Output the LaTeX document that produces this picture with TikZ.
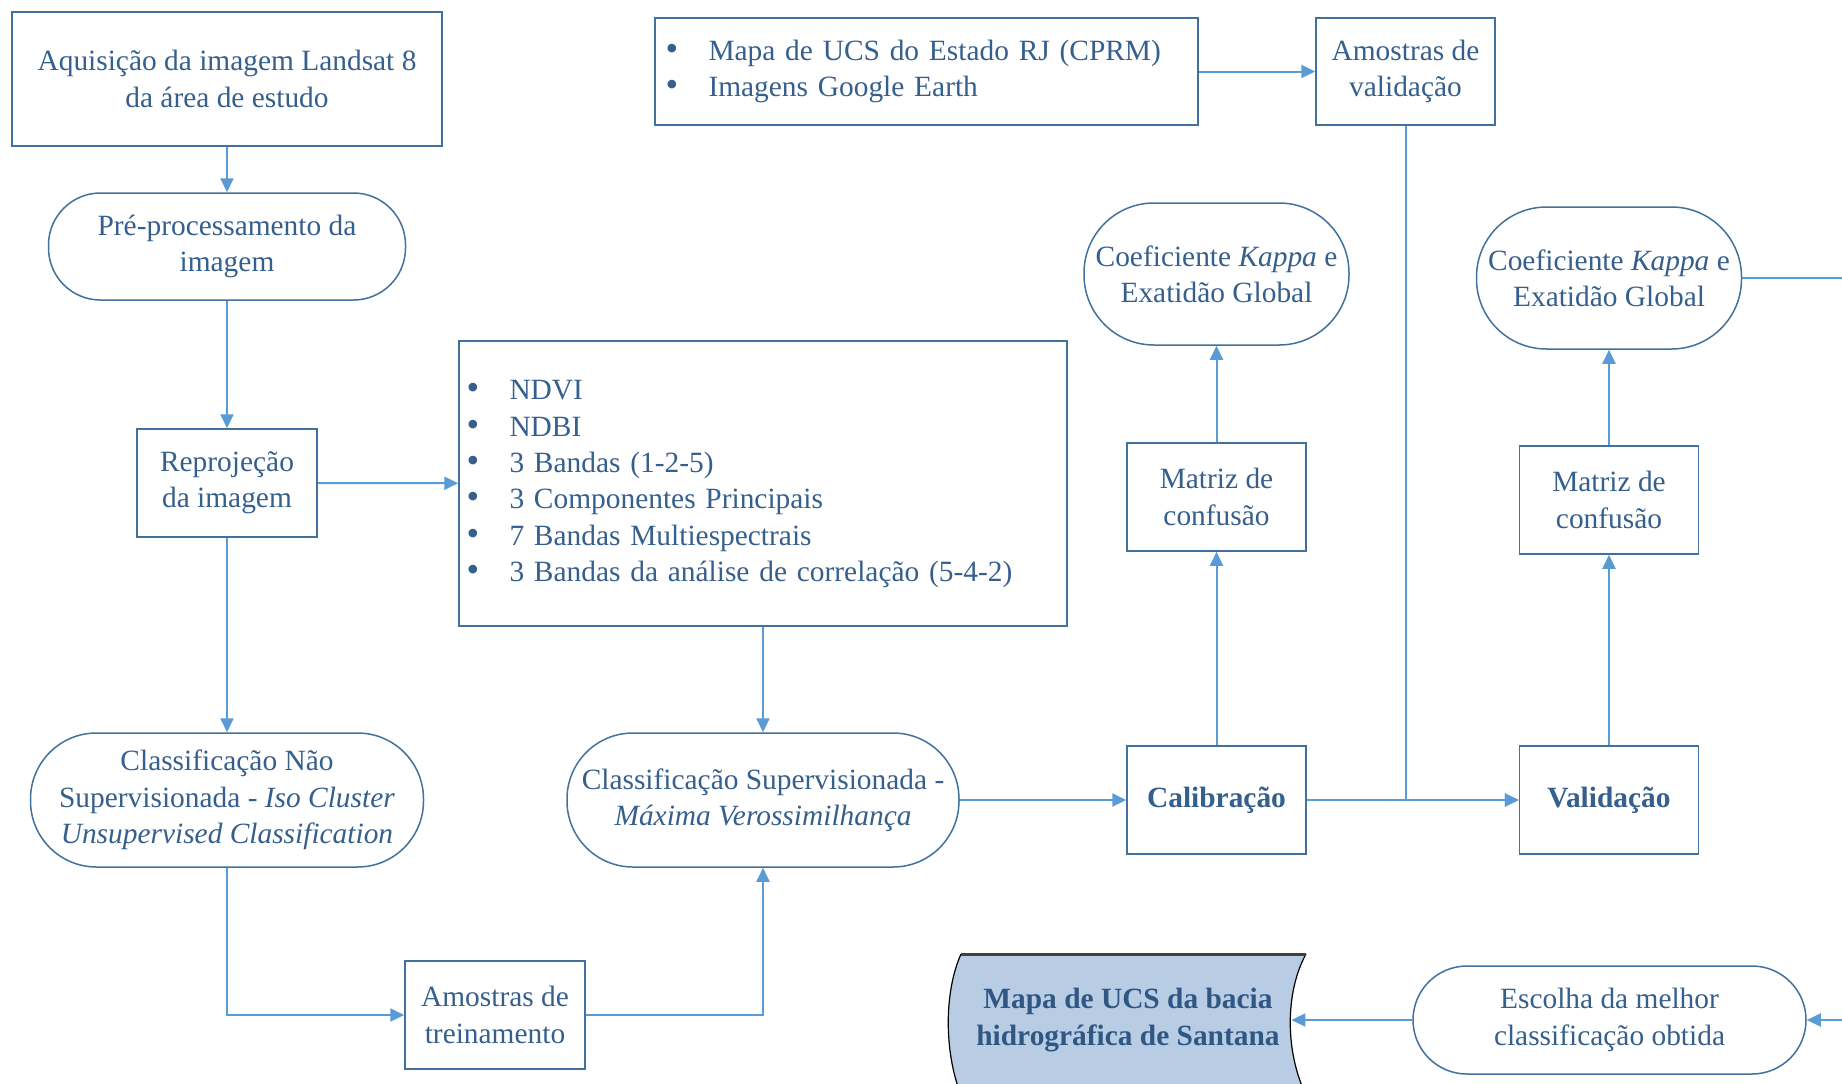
\documentclass[tikz,border=0pt]{standalone}
\usepackage{fontspec}
\setmainfont{Liberation Serif}
\usepackage{xcolor}
\usetikzlibrary{arrows.meta}

\definecolor{boxline}{HTML}{41719C}
\definecolor{flowline}{HTML}{5B9BD5}
\definecolor{boxtext}{HTML}{355F8D}
\definecolor{docfill}{HTML}{B8CCE4}
\definecolor{doctext}{HTML}{2F5784}
\newcommand{\diagfont}{\fontsize{14.7}{18.2}\selectfont}
\newcommand{\listdot}{{\fontsize{18}{18.2}\selectfont\textbullet}}

\tikzset{
    procbox/.style={draw=boxline, line width=0.75pt, fill=white, text=boxtext,
        align=center, inner sep=0pt, font=\diagfont},
    termbox/.style={procbox, rounded corners=26pt},
    listbox/.style={procbox, align=left, inner ysep=0pt},
    flow/.style={draw=flowline, line width=1pt, -{Triangle[length=7pt,width=6.5pt]}},
    plainflow/.style={draw=flowline, line width=1pt}
}

\begin{document}
\begin{tikzpicture}[x=0.5pt,y=-0.5pt]
        \useasboundingbox (0,0) rectangle (1842,1083);
        \clip (0,0) rectangle (1842,1083);

        % Left column
        \node[procbox, minimum width=215pt, minimum height=67pt] (aquis) at (227,79)
            {Aquisição da imagem Landsat 8\\da área de estudo};
        \node[termbox, minimum width=178.5pt, minimum height=53.5pt] (preproc) at (227,246.5)
            {Pré-processamento da\\imagem};
        \node[procbox, minimum width=90pt, minimum height=54pt] (reproj) at (227,483)
            {Reprojeção\\da imagem};
        \node[termbox, rounded corners=33pt, minimum width=196.5pt, minimum height=67pt] (naosup) at (227,800)
            {Classificação Não\\Supervisionada - \textit{Iso Cluster}\\\textit{Unsupervised Classification}};
        \node[procbox, minimum width=90pt, minimum height=54pt] (treino) at (495,1015)
            {Amostras de\\treinamento};

        % Bands and supervised classification
        \node[listbox, text width=296.5pt, inner xsep=3.75pt, minimum height=142.5pt] (bandas) at (763,483.5)
            {\begin{tabular}{@{}p{21.5pt}@{}l@{}}
            \listdot & NDVI\\
            \listdot & NDBI\\
            \listdot & 3 Bandas (1-2-5)\\
            \listdot & 3 Componentes Principais\\
            \listdot & 7 Bandas Multiespectrais\\
            \listdot & 3 Bandas da análise de correlação (5-4-2)
            \end{tabular}};
        \node[termbox, rounded corners=33pt, minimum width=196pt, minimum height=67pt] (supervis) at (763,800)
            {Classificação Supervisionada -\\\textit{Máxima Verossimilhança}};

        % Reference data
        \node[listbox, text width=261pt, inner xsep=5.25pt, minimum height=53.5pt] (refdata) at (926.5,71.5)
            {\begin{tabular}{@{}p{21.5pt}@{}l@{}}
            \listdot & Mapa de UCS do Estado RJ (CPRM)\\
            \listdot & Imagens Google Earth
            \end{tabular}};
        \node[procbox, minimum width=89.5pt, minimum height=53.5pt] (amval) at (1405.5,71.5)
            {Amostras de\\validação};

        % Calibration column
        \node[termbox, rounded corners=35pt, minimum width=132.5pt, minimum height=71pt] (kappacal) at (1216.5,274)
            {Coeficiente \textit{Kappa} e\\Exatidão Global};
        \node[procbox, minimum width=89.5pt, minimum height=54pt] (matrizcal) at (1216.5,497)
            {Matriz de\\confusão};
        \node[procbox, minimum width=89.5pt, minimum height=54pt] (calib) at (1216.5,800)
            {\textbf{Calibração}};

        % Validation column
        \node[termbox, rounded corners=35pt, minimum width=132.5pt, minimum height=71pt] (kappaval) at (1609,278)
            {Coeficiente \textit{Kappa} e\\Exatidão Global};
        \node[procbox, minimum width=89.5pt, minimum height=54pt] (matrizval) at (1609,500)
            {Matriz de\\confusão};
        \node[procbox, minimum width=89.5pt, minimum height=54pt] (valid) at (1609,800)
            {\textbf{Validação}};

        % Final map
        \node[termbox, rounded corners=27pt, minimum width=196.5pt, minimum height=54pt] (escolha) at (1609.5,1020)
            {Escolha da melhor\\classificação obtida};
        \fill[docfill] (961,954) -- (1306,954) .. controls (1285,992) and (1285,1052) .. (1306,1095)
            -- (961,1095) .. controls (944,1052) and (944,992) .. (961,954);
        \draw[black, line width=0.6pt] (1306,954) .. controls (1285,992) and (1285,1052) .. (1306,1095);
        \draw[black, line width=0.6pt] (961,954) .. controls (944,992) and (944,1052) .. (961,1095);
        \draw[black!75, line width=1.5pt] (961,954) -- (1306,954);
        \node[text=doctext, font=\diagfont\bfseries, align=center, inner sep=0pt,
            minimum width=163pt] (mapa) at (1128,1020)
            {Mapa de UCS da bacia\\hidrográfica de Santana};
        \coordinate (offkappa) at (1850,278);
        \coordinate (offescolha) at (1850,1020);

        % Connectors
        \draw[flow] (aquis) -- (preproc);
        \draw[flow] (preproc) -- (reproj);
        \draw[flow] (reproj) -- (bandas);
        \draw[flow] (reproj) -- (naosup);
        \draw[flow] (bandas) -- (supervis);
        \draw[flow] (naosup.south) |- (treino.west);
        \draw[flow] (treino.east) -| (supervis.south);
        \draw[flow] (supervis) -- (calib);
        \draw[flow] (calib) -- (valid);
        \draw[flow] (refdata) -- (amval);
        \draw[flow] (amval.south) |- (valid.west);
        \draw[flow] (calib) -- (matrizcal);
        \draw[flow] (matrizcal) -- (kappacal);
        \draw[flow] (valid) -- (matrizval);
        \draw[flow] (matrizval) -- (kappaval);
        \draw[plainflow] (kappaval.east) -- (offkappa);
        \draw[flow] (offescolha) -- (escolha.east);
        \draw[flow] (escolha.west) -- (mapa.east);

    \end{tikzpicture}
\end{document}
